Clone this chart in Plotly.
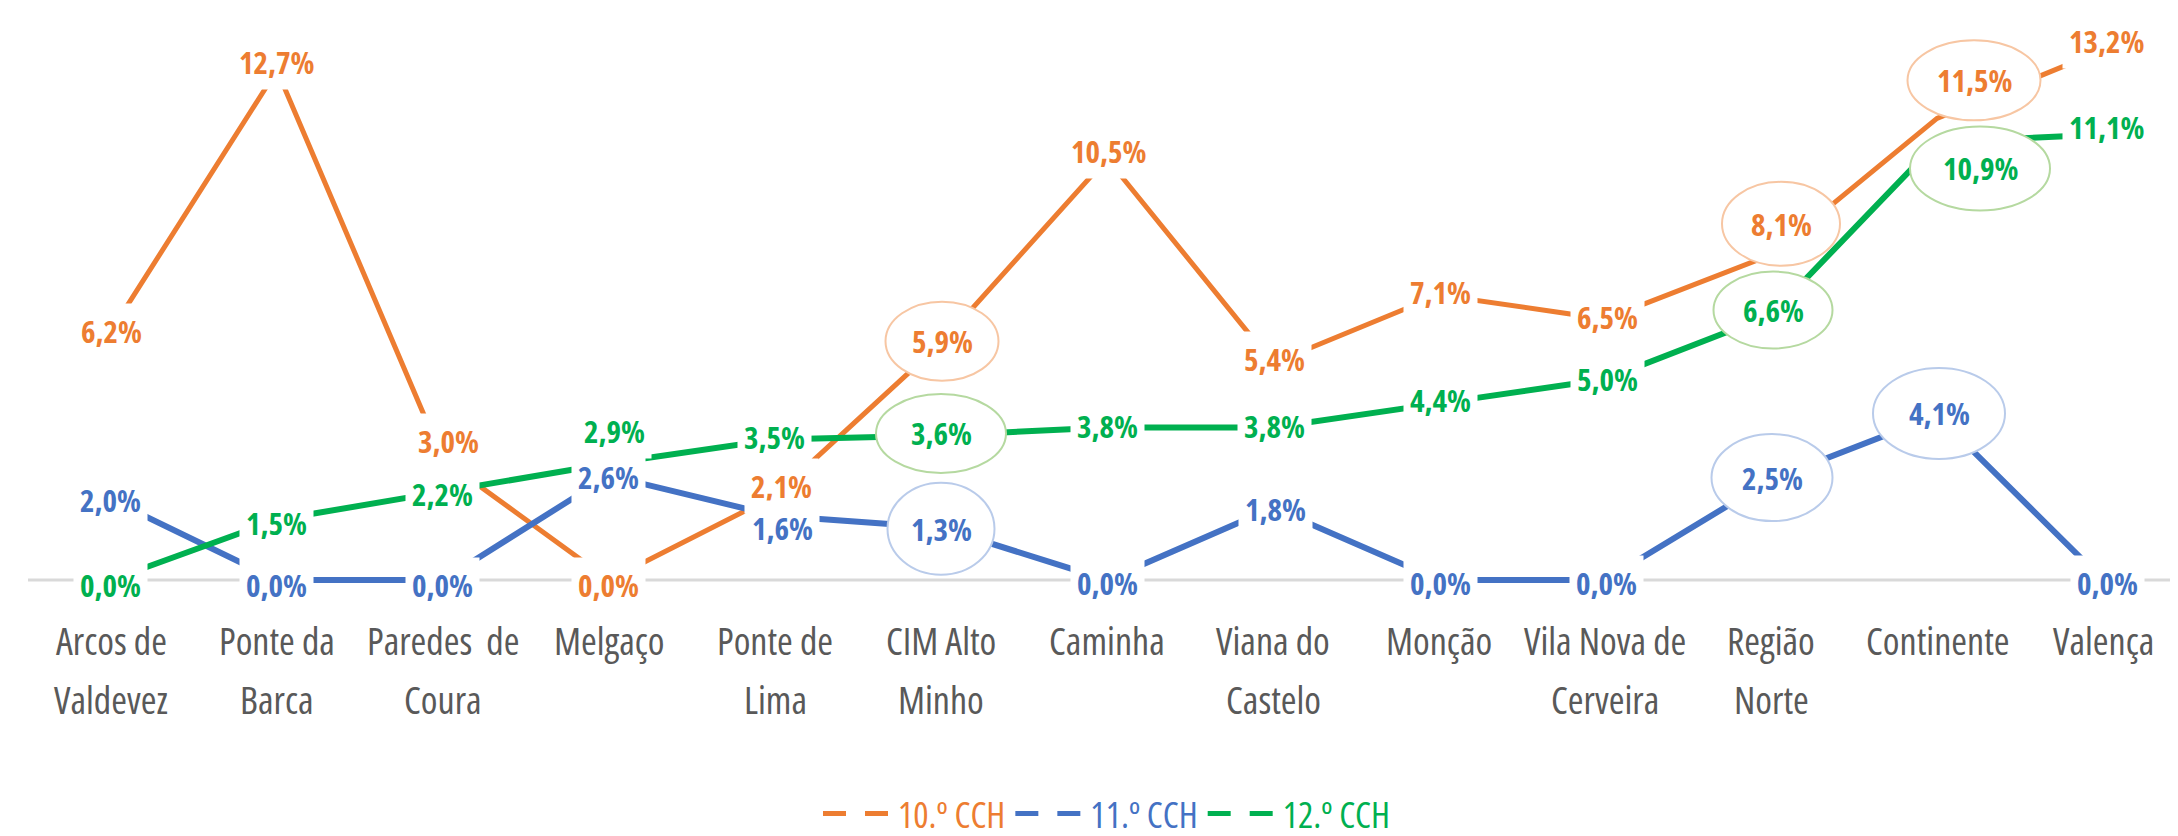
import plotly.graph_objects as go

# ---------------- data ----------------
categories = ["Arcos de Valdevez", "Ponte da Barca", "Paredes  de Coura", "Melgaço",
              "Ponte de Lima", "CIM Alto Minho", "Caminha", "Viana do Castelo",
              "Monção", "Vila Nova de Cerveira", "Região Norte", "Continente", "Valença"]
tick_labels = ["Arcos de<br>Valdevez", "Ponte da<br>Barca", "Paredes  de<br>Coura", "Melgaço",
               "Ponte de<br>Lima", "CIM Alto<br>Minho", "Caminha", "Viana do<br>Castelo",
               "Monção", "Vila Nova de<br>Cerveira", "Região<br>Norte", "Continente", "Valença"]
series_names = ["10.º CCH", "11.º CCH", "12.º CCH"]
cch10 = [6.2, 12.7, 3.0, 0.0, 2.1, 5.9, 10.5, 5.4, 7.1, 6.5, 8.1, 11.5, 13.2]
cch11 = [2.0, 0.0, 0.0, 2.6, 1.6, 1.3, 0.0, 1.8, 0.0, 0.0, 2.5, 4.1, 0.0]
cch12 = [0.0, 1.5, 2.2, 2.9, 3.5, 3.6, 3.8, 3.8, 4.4, 5.0, 6.6, 10.9, 11.1]

# ---------------- styles ----------------
colors = ["#ED7D31", "#4472C4", "#00B050"]
light = ["#F7C6A3", "#B9CBEA", "#B5D9A0"]
FONT = "Open Sans, Noto Sans, sans-serif"
COND = "<span style='font-stretch:condensed'>{}</span>"

# label offsets in pixels (dx right, dy down) per series
off10 = [(0, 0), (-1, -8), (5, -19), (-1, 5), (6, -10), (1, -2), (1, -7), (1, -4),
         (1, -3), (2, -2), (10, -31), (37, -38), (3, -9)]
off11 = [(-1, 0), (-1, 5), (-1, 5), (-1, 1), (7, 12), (0, 1), (0, 3), (2, 1),
         (1, 3), (1, 3), (1, -2), (2, -2), (4, 3)]
off12 = [(-1, 5), (-1, 3), (-1, 2), (5, -33), (-1, -2), (0, -2), (0, -1), (1, -1),
         (1, -3), (2, 0), (2, -5), (43, 26), (3, -7)]
# ellipse-labelled points: index -> (width, height)
ell10 = {5: (113, 79), 10: (118, 84), 11: (133, 80)}
ell11 = {5: (107, 92), 10: (121, 87), 11: (132, 91)}
ell12 = {5: (130, 79), 10: (119, 77), 11: (140, 84)}

series = [cch10, cch11, cch12]
offsets = [off10, off11, off12]
ellipses = [ell10, ell11, ell12]
widths = [5, 6, 6]

x = list(range(len(categories)))

fig = go.Figure()
for s, vals in enumerate(series):
    fig.add_trace(go.Scatter(x=x, y=vals, mode="lines", name=series_names[s],
                             line=dict(color=colors[s], width=widths[s]),
                             showlegend=False, hoverinfo="skip"))
# legend entries (dashed symbol)
for s in range(3):
    fig.add_trace(go.Scatter(x=[None], y=[None], mode="lines",
                             name=f"<span style='color:{colors[s]};font-stretch:condensed'>{series_names[s]}</span>",
                             line=dict(color=colors[s], width=5, dash="23px,19px")))

shapes = [dict(type="line", xref="paper", yref="y", x0=0, x1=1, y0=0, y1=0,
               line=dict(color="#D9D9D9", width=3), layer="below")]
annotations = []
for s, vals in enumerate(series):
    for i, v in enumerate(vals):
        dx, dy = offsets[s][i]
        txt = COND.format(f"<b>{v:.1f}%</b>".replace(".", ","))
        font = dict(family=FONT, size=31, color=colors[s])
        if i in ellipses[s]:
            w, h = ellipses[s][i]
            shapes.append(dict(type="circle", xref="x", yref="y",
                               xsizemode="pixel", ysizemode="pixel",
                               xanchor=i, yanchor=v,
                               x0=dx - w / 2, x1=dx + w / 2,
                               y0=-dy - h / 2, y1=-dy + h / 2,
                               fillcolor="white",
                               line=dict(color=light[s], width=2), layer="above"))
            annotations.append(dict(x=i, y=v, xref="x", yref="y", text=txt,
                                    showarrow=False, xshift=dx, yshift=-dy, font=font))
        else:
            annotations.append(dict(x=i, y=v, xref="x", yref="y", text=txt,
                                    showarrow=False, xshift=dx, yshift=-dy,
                                    bgcolor="white", borderpad=6, font=font))

# category labels (two lines each, Excel-like line spacing)
line_y = [-0.092, -0.194]
for i, lab in enumerate(tick_labels):
    for k, part in enumerate(lab.split("<br>")):
        annotations.append(dict(x=i, y=line_y[k], xref="x", yref="paper",
                                text=COND.format(part.replace("  ", "&nbsp; ")),
                                showarrow=False, yanchor="middle",
                                font=dict(family=FONT, size=38, color="#595959")))

fig.update_layout(
    width=2178, height=836,
    margin=dict(l=20, r=0, t=10, b=248),
    paper_bgcolor="white", plot_bgcolor="white",
    font=dict(family=FONT, color="#595959"),
    xaxis=dict(range=[-0.5, 12.5], tickmode="array", tickvals=x,
               showticklabels=False,
               showgrid=False, zeroline=False, showline=False, ticks="",
               layer="below traces"),
    yaxis=dict(range=[-0.2, 14], showgrid=False, zeroline=False, showline=False,
               showticklabels=False, ticks=""),
    shapes=shapes,
    annotations=annotations,
    showlegend=True,
    legend=dict(orientation="h", x=0.5, xanchor="center", y=-0.396, yanchor="middle",
                font=dict(family=FONT, size=36), itemwidth=70,
                bgcolor="rgba(0,0,0,0)"),
)

fig.write_html("out.html")
